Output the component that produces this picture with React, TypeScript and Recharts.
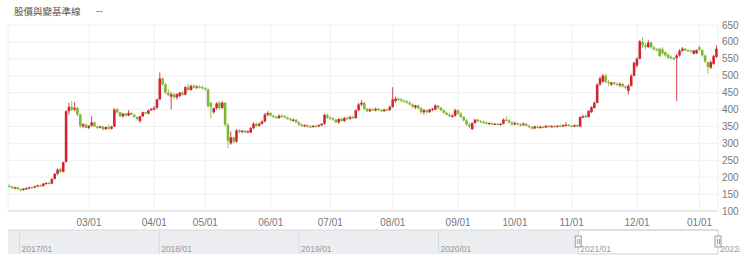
import React from 'react'
import {
  Bar,
  CartesianGrid,
  ComposedChart,
  Line,
  ReferenceArea,
  ReferenceDot,
  ReferenceLine,
  XAxis,
  YAxis,
} from 'recharts'

// trading days per month, first block is Jan/Feb 2021 (no label)
const monthLabels = ['', '03/01', '04/01', '05/01', '06/01', '07/01', '08/01', '09/01', '10/01', '11/01', '12/01', '01/01']
const monthDays = [28, 23, 18, 23, 21, 22, 23, 20, 20, 23, 22, 7]

const yTicks = [100, 150, 200, 250, 300, 350, 400, 450, 500, 550, 600, 650]

// [open, high, low, close]
const candles: [number, number, number, number][] = [
  [175, 178, 170, 172], [172, 175, 166, 168], [168, 172, 164, 170], [170, 172, 163, 165], [165, 167, 158, 162],
  [162, 168, 160, 166], [166, 170, 163, 168], [168, 172, 165, 170], [170, 174, 167, 169], [169, 175, 167, 173],
  [173, 178, 170, 176], [176, 179, 172, 174], [174, 183, 172, 181], [181, 186, 178, 183], [183, 187, 179, 181],
  [181, 196, 180, 195], [195, 212, 193, 210], [210, 226, 206, 222], [224, 228, 212, 216], [216, 246, 214, 244],
  [245, 398, 243, 395], [395, 420, 385, 408], [408, 425, 396, 400], [400, 422, 395, 405], [405, 408, 380, 385],
  [385, 388, 345, 352], [350, 360, 346, 356], [356, 358, 344, 346], [346, 354, 342, 352], [352, 380, 350, 362],
  [362, 364, 348, 350], [350, 352, 342, 346], [346, 352, 344, 350], [350, 351, 338, 342], [342, 350, 340, 348],
  [348, 356, 341, 343], [343, 352, 341, 350], [350, 404, 348, 400], [400, 405, 388, 392], [392, 394, 378, 380],
  [380, 390, 376, 388], [388, 390, 380, 382], [382, 398, 380, 390], [390, 392, 383, 385], [385, 387, 376, 378],
  [378, 380, 368, 372], [366, 382, 360, 380], [380, 394, 378, 392], [392, 394, 386, 388], [388, 400, 386, 398],
  [398, 404, 396, 402], [400, 410, 398, 405], [405, 432, 403, 430], [430, 510, 428, 492], [492, 495, 470, 475],
  [475, 478, 445, 450], [450, 460, 440, 443], [438, 452, 400, 445], [445, 450, 432, 436], [436, 448, 430, 445],
  [440, 452, 436, 450], [450, 455, 440, 444], [444, 470, 442, 466], [466, 476, 455, 458], [458, 474, 455, 470],
  [470, 475, 462, 465], [465, 472, 460, 468], [468, 472, 462, 466], [466, 470, 460, 464], [464, 466, 455, 460],
  [460, 462, 405, 410], [420, 424, 375, 408], [392, 406, 388, 404], [404, 422, 400, 418], [420, 425, 400, 405],
  [405, 425, 402, 420], [420, 422, 350, 355], [355, 360, 286, 308], [300, 335, 296, 318], [318, 320, 300, 305],
  [305, 342, 302, 338], [338, 342, 330, 334], [334, 340, 330, 337], [337, 340, 330, 333], [333, 338, 330, 336],
  [332, 348, 330, 345], [345, 362, 342, 358], [358, 362, 348, 352], [352, 362, 350, 358], [358, 368, 355, 365],
  [365, 390, 362, 385], [385, 395, 380, 390], [390, 392, 380, 382], [382, 385, 375, 378], [378, 382, 372, 375],
  [375, 385, 372, 382], [382, 386, 376, 380], [380, 384, 374, 376], [376, 380, 370, 372], [372, 376, 366, 368],
  [368, 374, 364, 370], [370, 372, 360, 362], [362, 366, 352, 355], [355, 360, 348, 352], [352, 356, 348, 354],
  [354, 356, 346, 350], [350, 354, 346, 349], [349, 354, 346, 352], [352, 355, 346, 350], [350, 356, 348, 354],
  [354, 360, 350, 358], [358, 388, 355, 384], [384, 388, 372, 376], [376, 380, 370, 374], [374, 378, 366, 370],
  [370, 372, 360, 362], [362, 375, 358, 372], [372, 376, 364, 366], [366, 378, 364, 375], [375, 380, 370, 373],
  [373, 382, 370, 378], [378, 382, 372, 375], [375, 400, 373, 398], [398, 420, 395, 415], [415, 428, 410, 420],
  [420, 422, 398, 402], [402, 405, 392, 395], [395, 405, 392, 400], [400, 405, 396, 398], [398, 406, 394, 402],
  [402, 405, 396, 398], [398, 402, 392, 395], [395, 402, 392, 400], [400, 404, 396, 398], [398, 412, 396, 408],
  [408, 466, 405, 430], [425, 438, 420, 432], [432, 435, 425, 428], [430, 434, 422, 426], [426, 430, 420, 423],
  [424, 428, 416, 420], [420, 425, 412, 415], [415, 418, 405, 408], [406, 414, 402, 412], [412, 415, 400, 404],
  [404, 408, 388, 392], [392, 402, 385, 398], [398, 400, 388, 392], [392, 402, 390, 400], [400, 405, 395, 402],
  [400, 415, 398, 412], [412, 414, 402, 405], [405, 408, 395, 398], [398, 400, 388, 390], [390, 394, 382, 385],
  [385, 388, 378, 380], [378, 386, 376, 382], [382, 402, 378, 398], [398, 400, 384, 388], [388, 392, 375, 378],
  [378, 380, 365, 368], [368, 372, 352, 356], [356, 360, 345, 350], [342, 362, 340, 360], [360, 372, 358, 370],
  [370, 373, 362, 366], [366, 370, 360, 363], [363, 368, 358, 362], [362, 365, 356, 358], [358, 362, 355, 360],
  [360, 362, 354, 356], [356, 360, 354, 358], [358, 360, 354, 356], [356, 360, 352, 358], [358, 374, 356, 370],
  [370, 380, 365, 368], [368, 372, 358, 362], [362, 366, 352, 356], [356, 364, 354, 360], [360, 362, 354, 356],
  [356, 360, 350, 354], [354, 362, 352, 358], [358, 360, 350, 352], [352, 356, 345, 348], [348, 352, 340, 344],
  [344, 352, 342, 350], [350, 352, 344, 346], [346, 352, 343, 349], [349, 352, 345, 347], [347, 354, 345, 352],
  [352, 354, 346, 349], [349, 354, 347, 351], [351, 354, 347, 349], [349, 354, 347, 352], [352, 355, 348, 350],
  [350, 356, 348, 354], [352, 362, 350, 355], [355, 357, 350, 352], [352, 355, 348, 350], [350, 356, 348, 354],
  [354, 356, 348, 351], [350, 380, 348, 378], [376, 385, 374, 380], [382, 385, 375, 377], [378, 398, 376, 396],
  [392, 410, 390, 407], [405, 424, 403, 420], [420, 478, 418, 474], [474, 498, 470, 492], [482, 505, 480, 500],
  [500, 505, 478, 482], [482, 488, 470, 478], [474, 482, 470, 480], [480, 483, 472, 476], [476, 480, 470, 474],
  [472, 480, 466, 476], [476, 478, 465, 468], [468, 472, 460, 464], [455, 475, 445, 470], [470, 505, 468, 500],
  [500, 542, 498, 538], [530, 555, 525, 550], [550, 605, 548, 602], [600, 615, 582, 590], [590, 598, 578, 585],
  [585, 605, 582, 598], [598, 602, 580, 584], [584, 588, 574, 578], [578, 582, 572, 576], [580, 583, 555, 558],
  [578, 584, 562, 566], [570, 572, 556, 560], [562, 566, 550, 553], [556, 560, 548, 552], [552, 556, 546, 550],
  [552, 565, 425, 560], [560, 578, 556, 574], [574, 585, 570, 580], [580, 582, 572, 575], [576, 578, 570, 573],
  [575, 577, 568, 572], [565, 577, 562, 574], [566, 578, 564, 576], [584, 590, 574, 576], [576, 578, 556, 560],
  [560, 562, 538, 542], [540, 542, 506, 526], [524, 545, 520, 540], [535, 562, 532, 558], [556, 590, 552, 580],
]

// navigator (overview) years
const navYears = [2017, 2018, 2019, 2020, 2021, 2022]
const navStart = 2016.918
const selStart = 2021
const selEnd = 2022

const RED = '#d1252d'
const GREEN = '#7db733'

const monthStarts: number[] = []
const labelByIdx: Record<number, string> = {}
monthDays.reduce((acc, n, m) => {
  if (monthLabels[m]) {
    monthStarts.push(acc)
    labelByIdx[acc] = monthLabels[m]
  }
  return acc + n
}, 0)

const rows = candles.map(([open, high, low, close], idx) => ({
  idx,
  open,
  high,
  low,
  close,
  range: [low, high],
}))

const navRows = navYears.map(t => ({ t, v: 0.5 }))

const Candle = (props: any) => {
  const { x, y, width, height, payload } = props
  if (!payload || height == null) return null
  const { open, high, low, close } = payload
  const color = close >= open ? RED : GREEN
  const span = high - low || 1
  const yOf = (v: number) => y + ((high - v) / span) * height
  const top = yOf(Math.max(open, close))
  const bottom = yOf(Math.min(open, close))
  const cx = x + width / 2
  return (
    <g>
      <line x1={cx} x2={cx} y1={y} y2={y + height} stroke={color} strokeWidth={1} strokeOpacity={0.85} />
      <rect x={x} y={top} width={width} height={Math.max(1.2, bottom - top)} fill={color} />
    </g>
  )
}

const Handle = (props: any) => {
  const { cx, cy } = props
  return (
    <g>
      <rect x={cx - 3} y={cy - 6} width={6} height={11} fill="#f4f4f4" stroke="#a0a0a0" strokeWidth={1} />
      <line x1={cx - 0.5} x2={cx - 0.5} y1={cy - 3} y2={cy + 2} stroke="#a0a0a0" />
      <line x1={cx + 1.5} x2={cx + 1.5} y1={cy - 3} y2={cy + 2} stroke="#a0a0a0" />
    </g>
  )
}

const font = '"Liberation Sans", Arial, sans-serif'

export default function App() {
  return (
    <div style={{ position: 'absolute', left: 0, top: 0, width: 740, height: 261, background: '#fff', fontFamily: font }}>
      <div
        style={{
          position: 'absolute',
          left: 14,
          top: 3,
          fontSize: 9.5,
          lineHeight: '16px',
          color: '#555',
          fontFamily: '"Noto Sans CJK TC", "Noto Sans", sans-serif',
        }}
      >
        股價與變基準線
      </div>
      <div style={{ position: 'absolute', left: 96, top: 3, fontSize: 10, lineHeight: '16px', color: '#777' }}>--</div>

      <div style={{ position: 'absolute', left: 0, top: 0 }}>
        <ComposedChart width={740} height={229} data={rows} margin={{ top: 25, right: 0, bottom: 0, left: 8 }}>
          <CartesianGrid stroke="#f0f0f0" />
          <XAxis
            dataKey="idx"
            ticks={monthStarts}
            interval={0}
            tickFormatter={(v: number) => labelByIdx[v] ?? ''}
            height={18}
            tickSize={0}
            tickMargin={8}
            tickLine={false}
            axisLine={{ stroke: '#dcdcdc' }}
            tick={{ fontSize: 10, fill: '#777', fontFamily: font }}
          />
          <YAxis
            orientation="right"
            width={22}
            domain={[100, 650]}
            ticks={yTicks}
            interval={0}
            tickSize={0}
            tickMargin={4}
            tickLine={false}
            axisLine={false}
            tick={{ fontSize: 10, fill: '#777', fontFamily: font }}
          />
          <Bar dataKey="range" barSize={3} shape={<Candle />} isAnimationActive={false} />
        </ComposedChart>
      </div>

      <div style={{ position: 'absolute', left: 0, top: 229 }}>
        <ComposedChart width={740} height={26} data={navRows} margin={{ top: 1, right: 22, bottom: 1, left: 8 }}>
          <XAxis dataKey="t" type="number" domain={[navStart, selEnd]} hide allowDataOverflow />
          <YAxis domain={[0, 1]} hide />
          <ReferenceArea x1={navStart} x2={selStart} y1={0} y2={1} fill="#eceef2" fillOpacity={1} stroke="none" ifOverflow="visible" />
          <ReferenceArea x1={selStart} x2={selEnd} y1={0} y2={1} fill="#fff" fillOpacity={1} stroke="#cfcfcf" ifOverflow="visible" />
          <ReferenceLine y={1} stroke="#d4d6da" ifOverflow="visible" />
          {navYears.map(t => (
            <ReferenceLine
              key={t}
              x={t}
              stroke={t < selStart ? '#d6d9de' : 'transparent'}
              ifOverflow="visible"
              label={{
                value: `${t}/01`,
                position: 'insideBottomLeft',
                offset: 2,
                fontSize: 8.5,
                fill: '#999',
                fontFamily: font,
              }}
            />
          ))}
          <Line dataKey="v" stroke="transparent" dot={false} activeDot={false} isAnimationActive={false} />
          <ReferenceDot x={selStart} y={0.5} shape={<Handle />} ifOverflow="visible" />
          <ReferenceDot x={selEnd} y={0.5} shape={<Handle />} ifOverflow="visible" />
        </ComposedChart>
      </div>
    </div>
  )
}
